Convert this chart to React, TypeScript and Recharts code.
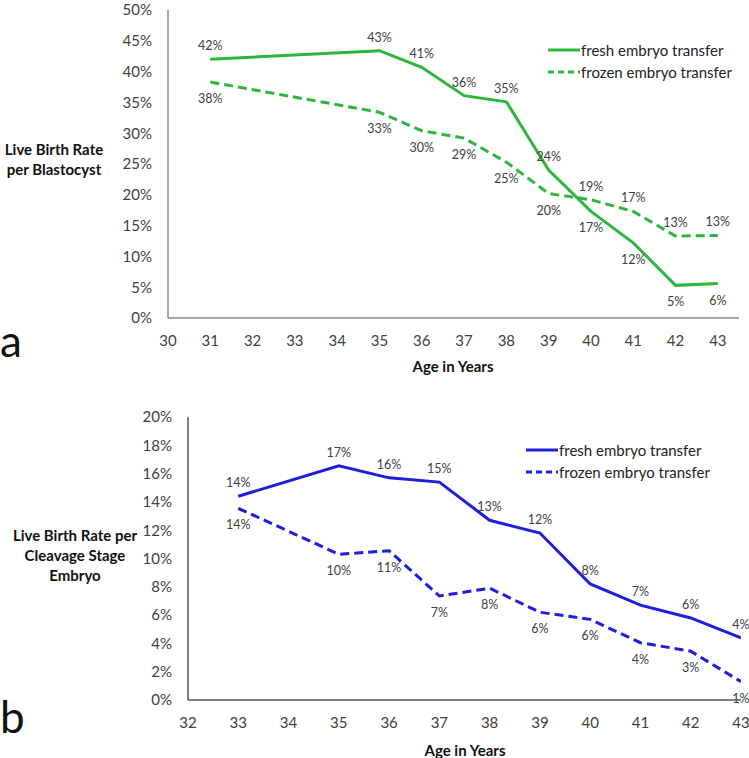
import React from "react"
import { LineChart, Line, XAxis, YAxis, LabelList } from "recharts"

// panel a: live birth rate per blastocyst (%)
const agesA = [31, 35, 36, 37, 38, 39, 40, 41, 42, 43]
const freshA = [42.0, 43.4, 40.7, 36.1, 35.1, 24.0, 17.3, 12.2, 5.3, 5.6]
const frozenA = [38.3, 33.4, 30.4, 29.2, 25.3, 20.2, 19.2, 17.3, 13.3, 13.4]
const xTicksA = [30, 31, 32, 33, 34, 35, 36, 37, 38, 39, 40, 41, 42, 43]
const yTicksA = [0, 5, 10, 15, 20, 25, 30, 35, 40, 45, 50]

// panel b: live birth rate per cleavage stage embryo (%)
const agesB = [33, 35, 36, 37, 38, 39, 40, 41, 42, 43]
const freshB = [14.4, 16.55, 15.7, 15.4, 12.7, 11.8, 8.2, 6.7, 5.8, 4.4]
const frozenB = [13.55, 10.3, 10.55, 7.35, 7.9, 6.2, 5.7, 4.05, 3.45, 1.3]
const xTicksB = [32, 33, 34, 35, 36, 37, 38, 39, 40, 41, 42, 43]
const yTicksB = [0, 2, 4, 6, 8, 10, 12, 14, 16, 18, 20]

const seriesNames = ["fresh embryo transfer", "frozen embryo transfer"]

const FONT = "Lato, 'Open Sans', sans-serif"
const GREEN = "#2db63e"
const BLUE = "#1e1ede"
const DASH = "9 5"

const tickStyle = { fontSize: 15, fill: "#404040", fontFamily: FONT }

function makeLabel(own: number[], other: number[]) {
  return (props: any) => {
    const { x, y, value, index } = props
    const above = own[index] >= other[index]
    return (
      <text
        x={x}
        y={above ? y - 9 : y + 21}
        textAnchor="middle"
        fontSize={12.5}
        fill="#404040"
        fontFamily={FONT}
      >
        {Math.round(value)}%
      </text>
    )
  }
}

function LegendBox({ color, left, top }: { color: string; left: number; top: number }) {
  return (
    <div style={{ position: "absolute", left, top, fontFamily: FONT, fontSize: 15, color: "#222" }}>
      {seriesNames.map((name, i) => (
        <div key={name} style={{ display: "flex", alignItems: "center", height: 22 }}>
          <svg width={32} height={10} style={{ marginRight: 1 }}>
            <line
              x1={0}
              y1={5}
              x2={32}
              y2={5}
              stroke={color}
              strokeWidth={3}
              strokeDasharray={i === 1 ? "6 4" : undefined}
            />
          </svg>
          <span>{name}</span>
        </div>
      ))}
    </div>
  )
}

function Panel(props: {
  ages: number[]
  fresh: number[]
  frozen: number[]
  xTicks: number[]
  yTicks: number[]
  xMax: number
  color: string
  width: number
  height: number
  margin: any
  yWidth: number
  xHeight: number
  axisColor: string
}) {
  const data = props.ages.map((age, i) => ({ age, fresh: props.fresh[i], frozen: props.frozen[i] }))
  const yMax = props.yTicks[props.yTicks.length - 1]
  return (
    <LineChart width={props.width} height={props.height} data={data} margin={props.margin}>
      <XAxis
        type="number"
        dataKey="age"
        domain={[props.xTicks[0], props.xMax]}
        ticks={props.xTicks}
        allowDataOverflow
        height={props.xHeight}
        tickLine={false}
        tickSize={0}
        tickMargin={17}
        tick={tickStyle}
        axisLine={{ stroke: props.axisColor, strokeWidth: 1.5 }}
        interval={0}
      />
      <YAxis
        type="number"
        domain={[0, yMax]}
        ticks={props.yTicks}
        width={props.yWidth}
        tickLine={false}
        tickSize={0}
        tickMargin={16}
        tick={tickStyle}
        tickFormatter={(v: number) => `${v}%`}
        axisLine={{ stroke: props.axisColor, strokeWidth: 1.5 }}
        interval={0}
      />
      <Line
        type="linear"
        dataKey="fresh"
        name={seriesNames[0]}
        stroke={props.color}
        strokeWidth={3}
        dot={false}
        isAnimationActive={false}
      >
        <LabelList dataKey="fresh" content={makeLabel(props.fresh, props.frozen)} />
      </Line>
      <Line
        type="linear"
        dataKey="frozen"
        name={seriesNames[1]}
        stroke={props.color}
        strokeWidth={3}
        strokeDasharray={DASH}
        dot={false}
        isAnimationActive={false}
      >
        <LabelList dataKey="frozen" content={makeLabel(props.frozen, props.fresh)} />
      </Line>
    </LineChart>
  )
}

const titleStyle: React.CSSProperties = {
  position: "absolute",
  fontFamily: FONT,
  fontWeight: 700,
  fontSize: 15,
  color: "#111",
  textAlign: "center",
  lineHeight: "20px",
}

const letterStyle: React.CSSProperties = {
  position: "absolute",
  fontFamily: FONT,
  fontSize: 44,
  color: "#111",
  lineHeight: "44px",
}

export default function App() {
  return (
    <div style={{ position: "absolute", left: 0, top: 0, width: 749, height: 758, background: "#fff", overflow: "hidden" }}>
      <div style={{ position: "absolute", left: 0, top: 0 }}>
        <Panel
          ages={agesA}
          fresh={freshA}
          frozen={frozenA}
          xTicks={xTicksA}
          yTicks={yTicksA}
          xMax={43.5}
          color={GREEN}
          width={749}
          height={380}
          margin={{ top: 10, right: 10, left: 0, bottom: 0 }}
          yWidth={168}
          xHeight={62}
          axisColor="#8a8a8a"
        />
      </div>
      <div style={{ position: "absolute", left: 0, top: 390 }}>
        <Panel
          ages={agesB}
          fresh={freshB}
          frozen={frozenB}
          xTicks={xTicksB}
          yTicks={yTicksB}
          xMax={43}
          color={BLUE}
          width={749}
          height={368}
          margin={{ top: 27, right: 8, left: 0, bottom: 0 }}
          yWidth={188}
          xHeight={58}
          axisColor="#555"
        />
      </div>

      <LegendBox color={GREEN} left={548} top={39} />
      <LegendBox color={BLUE} left={526} top={439} />

      <div style={{ ...titleStyle, left: 0, top: 139, width: 108 }}>
        Live Birth Rate
        <br />
        per Blastocyst
      </div>
      <div style={{ ...titleStyle, left: 10, top: 525, width: 130 }}>
        Live Birth Rate per
        <br />
        Cleavage Stage
        <br />
        Embryo
      </div>

      <div style={{ ...titleStyle, left: 353, top: 356, width: 200 }}>Age in Years</div>
      <div style={{ ...titleStyle, left: 365, top: 740, width: 200 }}>Age in Years</div>

      <div style={{ ...letterStyle, left: 0, top: 318 }}>a</div>
      <div style={{ ...letterStyle, left: 0, top: 694 }}>b</div>
    </div>
  )
}
